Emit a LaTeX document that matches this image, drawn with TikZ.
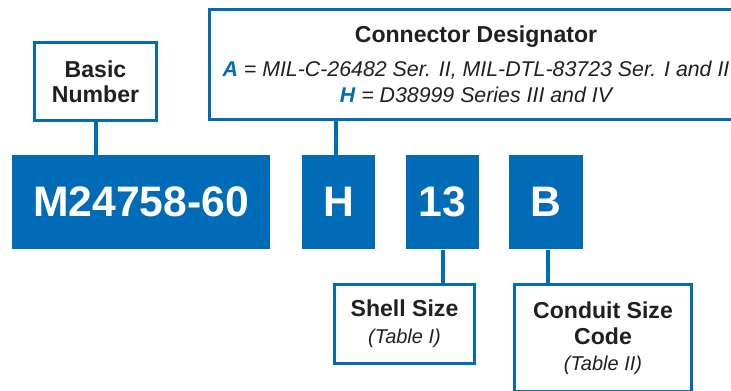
\documentclass[tikz,border=0pt]{standalone}
\usepackage{fontspec}
\setmainfont{Liberation Sans}
\definecolor{gblue}{RGB}{0,107,182}
\definecolor{gtext}{RGB}{35,31,32}
\tikzset{every picture/.style={line width=0.75pt}}
\tikzset{
  codebox/.style={fill=gblue, draw=none, text=white, inner sep=0pt,
    minimum height=70.5pt, font=\fontsize{32}{38}\selectfont\bfseries},
  notebox/.style={draw=gblue, line width=2.5pt, fill=white, text=gtext,
    align=center, inner sep=0pt},
  link/.style={draw=gblue, line width=3pt},
}
\newcommand{\lbl}{\fontsize{17.3}{19.5}\selectfont\upshape\bfseries}
\newcommand{\tbl}{\fontsize{15}{19.5}\selectfont\itshape}
\begin{document}
\begin{tikzpicture}[x=0.75pt,y=0.75pt,yscale=-1,xscale=1]
\clip (0,0) rectangle (731,390); %set diagram frame 731 x 390

%Shape: Rectangle [part number blocks]
\node [codebox, minimum width=193.5pt] (mbase) at (141,202) {M24758-60};
\node [codebox, minimum width=54.75pt] (hcode) at (338.5,202) {H};
\node [codebox, minimum width=54.75pt] (size) at (442.5,202) {13};
\node [codebox, minimum width=55.5pt] (cond) at (546,202) {B};

%Shape: Rectangle [callout boxes]
\node [notebox, minimum width=91.3pt, minimum height=58.3pt, font=\fontsize{17.3}{18.75}\selectfont\bfseries] (basic) at (95.5,81.5) {Basic\\Number};
\node [notebox, minimum width=399.5pt, minimum height=82.3pt, font=\fontsize{16}{19.5}\selectfont\itshape] (desig) at (476,64.5)
  {{\lbl Connector Designator}\\[6pt]
   \textcolor{gblue}{\bfseries A} = MIL-C-26482 Ser. II, MIL-DTL-83723 Ser. I and II\\
   \textcolor{gblue}{\bfseries H} = D38999 Series III and IV};
\node [notebox, minimum width=104.8pt, minimum height=59pt, font=\fontsize{17.3}{20.25}\selectfont] (shell) at (404.5,324)
  {{\lbl Shell Size}\\{\tbl (Table I)}};
\node [notebox, minimum width=132.5pt, minimum height=80pt, font=\fontsize{17.3}{19.5}\selectfont] (conduit) at (603,338)
  {{\lbl Conduit Size}\\{\lbl Code}\\{\tbl (Table II)}};

%Straight Lines [leaders]
\draw [link] (basic.south) -- (basic.south |- mbase.north);
\draw [link] ([xshift=-1.9pt]hcode.north) -- ([xshift=-1.9pt]hcode.north |- desig.south);
\draw [link] (size.south) -- (size.south |- shell.north);
\draw [link] ([xshift=1.5pt]cond.south) -- ([xshift=1.5pt]cond.south |- conduit.north);

\end{tikzpicture}
\end{document}
